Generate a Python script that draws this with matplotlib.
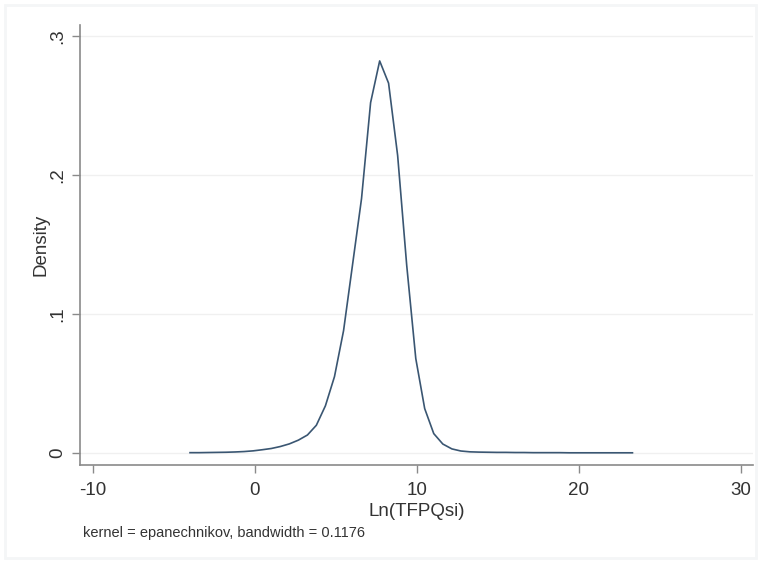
import matplotlib
matplotlib.use("Agg")
import matplotlib.pyplot as plt
from matplotlib.patches import Rectangle

# kernel density estimate
tfpq = [-4.0, -3.44, -2.89, -2.33, -1.77, -1.21, -0.66, -0.10, 0.46, 1.02,
        1.57, 2.13, 2.69, 3.25, 3.80, 4.36, 4.92, 5.48, 6.03, 6.59,
        7.15, 7.71, 8.26, 8.82, 9.38, 9.94, 10.49, 11.05, 11.61, 12.17,
        12.72, 13.28, 13.84, 14.40, 14.95, 15.51, 16.07, 16.63, 17.18, 17.74,
        18.30, 18.86, 19.41, 19.97, 20.53, 21.09, 21.64, 22.20, 22.76, 23.32]
density = [0.0003, 0.0003, 0.0004, 0.0005, 0.0006, 0.0008, 0.0011, 0.0016, 0.0024, 0.0033,
           0.0047, 0.0066, 0.0093, 0.013, 0.020, 0.034, 0.055, 0.088, 0.135, 0.183,
           0.252, 0.282, 0.266, 0.214, 0.135, 0.068, 0.032, 0.014, 0.0065, 0.003,
           0.0015, 0.0009, 0.0007, 0.0006, 0.0005, 0.0005, 0.0004, 0.0004, 0.0003, 0.0003,
           0.0003, 0.0003, 0.0002, 0.0002, 0.0002, 0.0002, 0.0002, 0.0002, 0.0002, 0.0002]

x_ticks = [-10, 0, 10, 20, 30]
y_ticks = [0, 0.1, 0.2, 0.3]
y_labels = ["0", ".1", ".2", ".3"]
note = "kernel = epanechnikov, bandwidth = 0.1176"

plt.rcParams['font.family'] = ['Liberation Sans', 'DejaVu Sans']
plt.rcParams['axes.unicode_minus'] = False

fig = plt.figure(figsize=(7.61, 5.63), dpi=100)
fig.patch.set_facecolor('white')
# faint outer frame like the exported graph region
fig.patches.append(Rectangle((0.006, 0.008), 0.988, 0.984, transform=fig.transFigure,
                             fill=False, edgecolor='#f4f6f7', linewidth=2))

ax = fig.add_axes([0.105, 0.174, 0.884, 0.782])
ax.plot(tfpq, density, color='#3a5672', linewidth=1.2)

ax.set_xlim(-10.8, 30.74)
ax.set_ylim(-0.0086, 0.308)
ax.set_xticks(x_ticks)
ax.set_yticks(y_ticks)
ax.set_yticklabels(y_labels, rotation=90, va='center')
ax.tick_params(axis='both', colors='#8a8a8a', labelcolor='#333333', labelsize=13.5,
               length=6, width=1)
ax.tick_params(axis='y', pad=4)
ax.tick_params(axis='x', pad=6)
ax.grid(axis='y', color='#f0f0f0', linewidth=1)
ax.set_axisbelow(True)
for side in ['top', 'right']:
    ax.spines[side].set_visible(False)
for side in ['left', 'bottom']:
    ax.spines[side].set_color('#8a8a8a')
    ax.spines[side].set_linewidth(1.2)

ax.set_xlabel('Ln(TFPQsi)', fontsize=13.5, color='#333333', labelpad=3)
ax.set_ylabel('Density', fontsize=13.5, color='#333333', labelpad=0)
fig.text(83 / 761, 1 - 533 / 563, note, fontsize=10.5, color='#333333',
         ha='left', va='center')

fig.savefig('out.png', dpi=100, facecolor=fig.get_facecolor())
